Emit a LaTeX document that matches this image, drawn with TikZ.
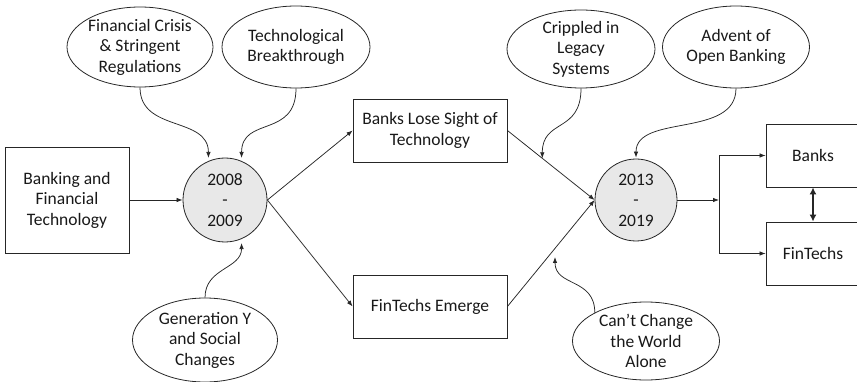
\documentclass[tikz,border=0pt]{standalone}
\usepackage{fontspec}
\setmainfont{Carlito}
\usetikzlibrary{arrows.meta,shapes.geometric,calc}
\begin{document}
\begin{tikzpicture}[x=1pt,y=-1pt,
  every node/.style={font=\fontsize{17.5}{20.5}\selectfont, text=black!90},
  box/.style={draw=black!85, line width=0.8pt, rectangle, align=center, inner sep=0pt},
  oval/.style={draw=black!85, line width=0.8pt, ellipse, minimum width=146pt, minimum height=80pt, inner sep=0pt},
  era/.style={draw=black!85, line width=0.8pt, circle, fill=black!9, minimum size=84pt, inner sep=0pt, align=center},
  txt/.style={align=center},
  arr/.style={draw=black!85, line width=0.75pt, -{Latex[length=6pt,width=4.5pt]}},
  dbl/.style={draw=black!85, line width=2.2pt, {Latex[length=7pt,width=7pt]}-{Latex[length=7pt,width=7pt]}},
]
\useasboundingbox (0,0) rectangle (857,382);
\clip (0,0) rectangle (857,382);

% boxes
\node[box, minimum width=124pt, minimum height=106pt] (bft) at (67,200) {Banking and\\Financial\\Technology};
\node[box, minimum width=154pt, minimum height=63pt] (b1) at (430,130.5) {Banks Lose Sight of\\Technology};
\node[box, minimum width=154pt, minimum height=63pt] (b2) at (430,306.5) {FinTechs Emerge};
\node[box, minimum width=94pt, minimum height=63pt] (bk) at (813,155.5) {Banks};
\node[box, minimum width=94pt, minimum height=63pt] (ft) at (813,253.5) {FinTechs};

% eras
\node[era] (c1) at (225,200) {2008\\-\\2009};
\node[era, minimum size=82pt] (c2) at (636,200) {2013\\-\\2019};

% ellipses
\node[oval, label={[txt]center:{Financial Crisis\\\& Stringent\\Regulations}}] (fc) at (140,47) {};
\node[oval, minimum width=148pt, minimum height=82pt, label={[txt]center:{Technological\\Breakthrough}}] (tb) at (296,47) {};
\node[oval, minimum width=148pt, minimum height=78pt, label={[txt]center:{Crippled in\\Legacy\\Systems}}] (cr) at (581,49) {};
\node[oval, minimum width=147pt, minimum height=82pt, label={[txt]center:{Advent of\\Open Banking}}] (ad) at (736,47) {};
\node[oval, minimum width=145pt, minimum height=84pt, label={[txt]center:{Generation Y\\and Social\\Changes}}] (gy) at (205,340) {};
\node[oval, minimum width=147pt, minimum height=78pt, label={[txt]center:{Can’t Change\\the World\\Alone}}] (cc) at (646,341) {};

% main flow
\draw[arr] (bft.east) -- (c1.west);
\draw[arr] (c1.east) -- (b1.west);
\draw[arr] (c1.east) -- (b2.west);
\draw[arr] (b1.east) -- (c2.west);
\draw[arr] (b2.east) -- (c2.west);
\coordinate (j) at (719,200);
\draw[arr] (c2.east) -- (j);
\draw[arr] (j) |- (bk.west);
\draw[arr] (j) |- (ft.west);
\draw[dbl] (bk.south) -- (ft.north);

% influences
\draw[arr, shorten >=3pt] (fc.south) .. controls +(0,45) and +(0,-45) .. (c1.113);
\draw[arr, shorten >=3pt] (tb.south) .. controls +(0,50) and +(0,-45) .. (c1.67);
\draw[arr, shorten >=4pt] (gy.north) .. controls +(0,-30) and +(0,30) .. (c1.-67);
\coordinate (crx) at ($(b1.east)!0.4!(c2.west)$);
\draw[arr] (cr.south) .. controls +(0,45) and +(0,-40) .. (crx);
\draw[arr, shorten >=1pt] (ad.south) .. controls +(0,50) and +(0,-45) .. (c2.north);
\coordinate (ccx) at (555,257);
\draw[arr] (cc.151) .. controls +(0,-35) and +(0,30) .. (ccx);
\end{tikzpicture}
\end{document}
